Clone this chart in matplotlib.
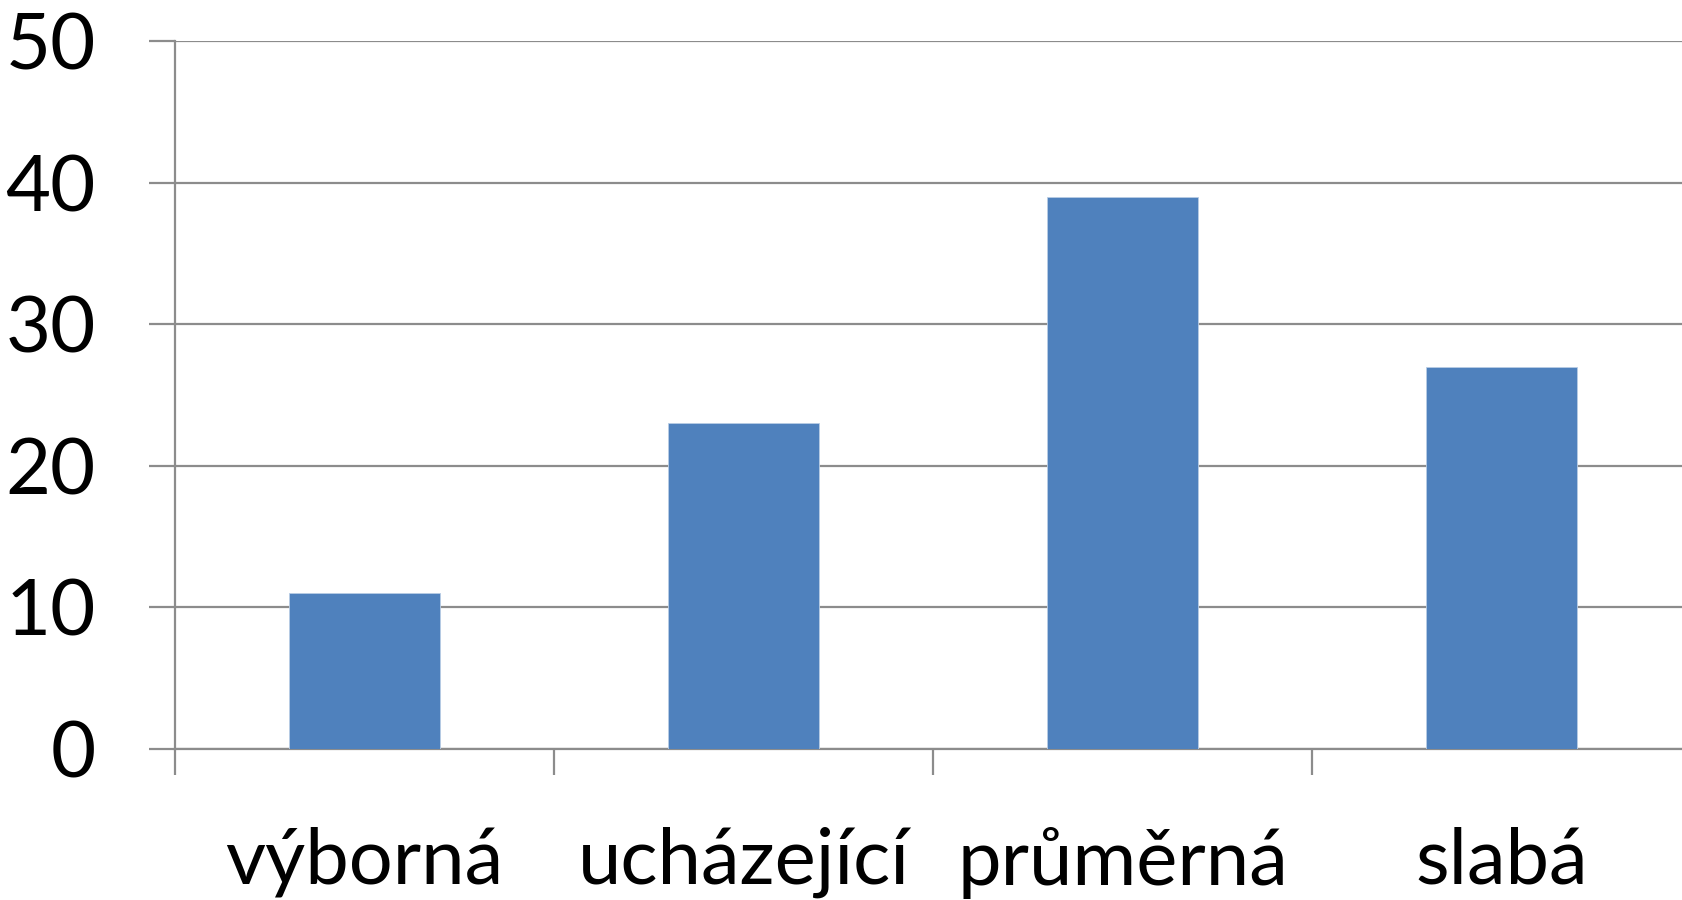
import matplotlib
matplotlib.use("Agg")
from matplotlib import pyplot as plt
import numpy as np

# data
categories = ["výborná", "ucházející", "průměrná", "slabá"]
values = [11, 23, 39, 27]
y_ticks = [0, 10, 20, 30, 40, 50]

grid_col = "#8c8c8c"
bar_col = "#4f81bd"

plt.rcParams['font.family'] = ['Lato', 'DejaVu Sans']

fig = plt.figure(figsize=(16.82, 9), dpi=100)
# axes runs slightly past the right edge, like the cropped original
ax = fig.add_axes([175 / 1682, 1 - 749 / 900, (4 * 379) / 1682, (749 - 41) / 900])

x = np.arange(len(categories))
ax.bar(x, values, width=0.4, color=bar_col, edgecolor="#b9cde5", linewidth=0.6, zorder=3)

ax.set_xlim(-0.5, len(categories) - 0.5)
ax.set_ylim(0, 50)

# gridlines
ax.set_yticks(y_ticks)
ax.yaxis.grid(True, color=grid_col, linewidth=1.6, zorder=0)
ax.tick_params(axis='y', length=19, width=1.6, color=grid_col, pad=38, labelsize=56)

# category labels at centres, tick marks at boundaries
ax.set_xticks(x)
ax.set_xticklabels(categories)
ax.set_xticks(np.arange(len(categories) + 1) - 0.5, minor=True)
ax.tick_params(axis='x', which='major', length=0, pad=56, labelsize=56)
ax.tick_params(axis='x', which='minor', length=19, width=1.6, color=grid_col)

for s in ['top', 'right']:
    ax.spines[s].set_visible(False)
for s in ['left', 'bottom']:
    ax.spines[s].set_color(grid_col)
    ax.spines[s].set_linewidth(1.6)

fig.savefig("out.png", dpi=100)
